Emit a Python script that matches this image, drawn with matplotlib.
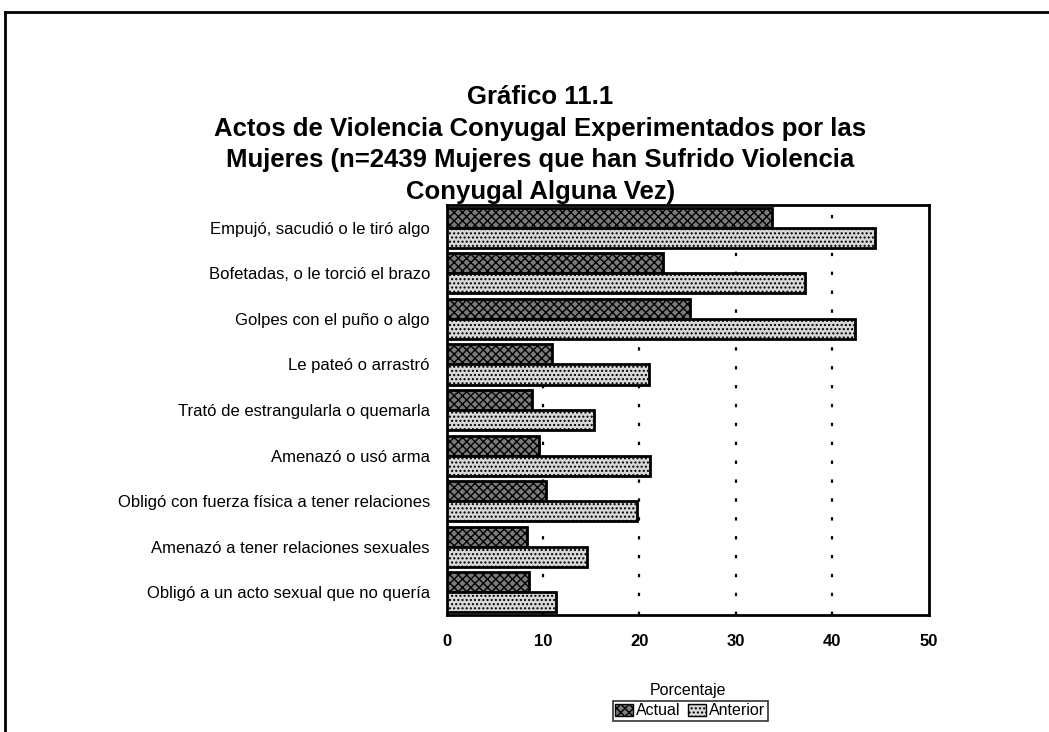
import matplotlib
matplotlib.use("Agg")
import matplotlib.pyplot as plt
from matplotlib.lines import Line2D
from matplotlib.patches import Patch

categories = [
    "Empujó, sacudió o le tiró algo",
    "Bofetadas, o le torció el brazo",
    "Golpes con el puño o algo",
    "Le pateó o arrastró",
    "Trató de estrangularla o quemarla",
    "Amenazó o usó arma",
    "Obligó con fuerza física a tener relaciones",
    "Amenazó a tener relaciones sexuales",
    "Obligó a un acto sexual que no quería",
]
actual = [33.8, 22.4, 25.3, 10.9, 8.9, 9.6, 10.3, 8.3, 8.5]
anterior = [44.4, 37.2, 42.4, 21.0, 15.3, 21.1, 19.8, 14.6, 11.4]
xticks = [0, 10, 20, 30, 40, 50]

plt.rcParams["font.family"] = ["Liberation Sans", "DejaVu Sans"]
plt.rcParams["hatch.linewidth"] = 1.0

fig = plt.figure(figsize=(10.49, 7.32), dpi=100)
ax = fig.add_axes([0.4257, 0.1598, 0.4595, 0.5601])
ax.set_facecolor("none")

h = 0.44
ypos = list(range(len(categories)))
ax.barh([y - h / 2 for y in ypos], actual, height=h, facecolor="#7a7a7a",
        edgecolor="black", hatch="xxxx", linewidth=2, zorder=3)
ax.barh([y + h / 2 for y in ypos], anterior, height=h, facecolor="#d8d8d8",
        edgecolor="black", hatch="....", linewidth=2, zorder=3)

ax.set_xlim(0, 50)
ax.set_ylim(len(categories) - 0.5, -0.5)
ax.set_yticks(ypos)
ax.set_yticklabels(categories, fontsize=12)
ax.set_xticks(xticks)
ax.set_xticklabels([str(t) for t in xticks], fontsize=12, fontweight="bold")
ax.tick_params(axis="y", length=0, pad=12)
ax.tick_params(axis="x", length=0, pad=14)

for t in xticks[1:-1]:
    ax.axvline(t, color="black", lw=1.6, linestyle=(0, (1.5, 7)), zorder=1)

for s in ax.spines.values():
    s.set_linewidth(2)

ax.set_xlabel("Porcentaje", fontsize=11.5, labelpad=24)

title = fig.suptitle("Gráfico 11.1\nActos de Violencia Conyugal Experimentados por las\n"
                     "Mujeres (n=2439 Mujeres que han Sufrido Violencia\nConyugal Alguna Vez)",
                     x=0.515, y=0.884, fontsize=18.5, fontweight="bold",
                     linespacing=1.41)
title.set_zorder(10)

handles = [Patch(facecolor="#7a7a7a", edgecolor="black", hatch="xxxx"),
           Patch(facecolor="#d8d8d8", edgecolor="black", hatch="....")]
leg = fig.legend(handles, ["Actual", "Anterior"], loc="center",
                 bbox_to_anchor=(0.658, 0.029), ncol=2, fontsize=11.5,
                 frameon=True, fancybox=False, handlelength=1.1,
                 handleheight=0.8, handletextpad=0.2, columnspacing=0.5,
                 borderpad=0.15, borderaxespad=0)
leg.get_frame().set_edgecolor("black")
leg.get_frame().set_linewidth(1.2)

# page frame around the chart
fig.add_artist(Line2D([0.005, 1.0], [0.984, 0.984], color="black", lw=2,
                      transform=fig.transFigure))
fig.add_artist(Line2D([0.005, 0.005], [0.0, 0.984], color="black", lw=2,
                      transform=fig.transFigure))

fig.savefig("out.png", dpi=100)
